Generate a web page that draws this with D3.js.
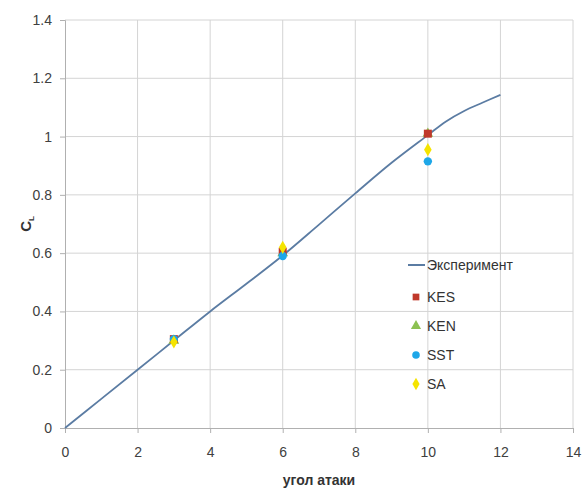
<!DOCTYPE html>
<html>
<head>
<meta charset="utf-8">
<script src="https://cdn.jsdelivr.net/npm/d3@7"></script>
<style>
  html, body { margin: 0; padding: 0; background: #fff; }
  svg { display: block; font-family: "Liberation Sans Narrow", "Liberation Sans", Arial, sans-serif; }
</style>
</head>
<body>
<svg id="chart" width="586" height="490"></svg>
<script>
// Experimental lift curve C_L vs angle of attack
const expAlpha = [0, 1, 2, 3, 4, 5, 6, 7, 8, 9, 10, 10.5, 11, 11.5, 12];
const expCl    = [0, 0.1, 0.2, 0.3, 0.4, 0.495, 0.592, 0.698, 0.805, 0.91, 1.005, 1.052, 1.088, 1.116, 1.143];

// Computed points for each turbulence model
const modelAlpha = [3, 6, 10];
const kesCl = [0.305, 0.605, 1.01];
const kenCl = [0.30, 0.60, 1.01];
const sstCl = [0.305, 0.59, 0.915];
const saCl  = [0.295, 0.62, 0.955];

const xTicks = [0, 2, 4, 6, 8, 10, 12, 14];
const yTicks = [0, 0.2, 0.4, 0.6, 0.8, 1, 1.2, 1.4];

const svg = d3.select("#chart");
const x = d3.scaleLinear().domain([0, 14]).range([65, 573]);
const y = d3.scaleLinear().domain([0, 1.4]).range([428, 20]);

// grid
svg.append("g").selectAll("line").data(xTicks.slice(1)).join("line")
  .attr("x1", d => x(d)).attr("x2", d => x(d))
  .attr("y1", y(0)).attr("y2", y(1.4))
  .attr("stroke", "#d4d4d4").attr("stroke-width", 1);
svg.append("g").selectAll("line").data(yTicks.slice(1)).join("line")
  .attr("x1", x(0)).attr("x2", x(14))
  .attr("y1", d => y(d)).attr("y2", d => y(d))
  .attr("stroke", "#d4d4d4").attr("stroke-width", 1);

// axes
const xAxis = svg.append("g").attr("transform", `translate(0,${y(0)})`)
  .call(d3.axisBottom(x).tickValues(xTicks).tickSize(5).tickPadding(14).tickFormat(d3.format("d")));
const yAxis = svg.append("g").attr("transform", `translate(${x(0)},0)`)
  .call(d3.axisLeft(y).tickValues(yTicks).tickSize(5).tickPadding(8).tickFormat(d => d === 0 || d === 1 ? d : d3.format(".1f")(d)));
[xAxis, yAxis].forEach(g => {
  g.select(".domain").attr("stroke", "#b0b0b0");
  g.selectAll(".tick line").attr("stroke", "#b0b0b0");
  g.selectAll(".tick text").attr("fill", "#404040").attr("font-size", 14);
});

// axis titles
svg.append("text").attr("x", x(7)).attr("y", 485).attr("text-anchor", "middle")
  .attr("font-size", 14).attr("font-weight", "bold").attr("fill", "#333").text("угол атаки");
const yt = svg.append("text").attr("transform", `translate(31,${y(0.7)}) rotate(-90)`)
  .attr("text-anchor", "middle").attr("font-size", 15).attr("font-weight", "bold").attr("fill", "#333");
yt.append("tspan").text("C");
yt.append("tspan").attr("font-size", 8).attr("dy", 3).text("L");

// experiment line
svg.append("path")
  .datum(expAlpha.map((a, i) => [a, expCl[i]]))
  .attr("fill", "none").attr("stroke", "#5b7ca3").attr("stroke-width", 1.8)
  .attr("d", d3.line().x(d => x(d[0])).y(d => y(d[1])).curve(d3.curveCatmullRom));

const sym = {
  KES: { type: d3.symbolSquare, color: "#c0392b", size: 64, data: kesCl },
  KEN: { type: d3.symbolTriangle, color: "#8cc152", size: 50, data: kenCl },
  SST: { type: d3.symbolCircle, color: "#1ea7e8", size: 55, data: sstCl },
  SA:  { type: d3.symbolDiamond, color: "#f5e400", size: 50, data: saCl }
};

// KEN sits underneath KES
["KEN", "KES", "SST", "SA"].forEach(k => {
  const s = sym[k];
  svg.append("g").selectAll("path").data(modelAlpha.map((a, i) => [a, s.data[i]])).join("path")
    .attr("transform", d => `translate(${x(d[0])},${y(d[1])})`)
    .attr("d", d3.symbol().type(s.type).size(s.size)())
    .attr("fill", s.color);
});

// legend
const lg = svg.append("g").attr("font-size", 14).attr("fill", "#333");
lg.append("line").attr("x1", 408).attr("x2", 425).attr("y1", 265).attr("y2", 265)
  .attr("stroke", "#5b7ca3").attr("stroke-width", 2);
lg.append("text").attr("x", 427).attr("y", 270).text("Эксперимент");
const keys = ["KES", "KEN", "SST", "SA"];
keys.forEach((k, i) => {
  const yy = 297 + i * 29;
  lg.append("path").attr("transform", `translate(416,${yy})`)
    .attr("d", d3.symbol().type(sym[k].type).size(45)()).attr("fill", sym[k].color);
  lg.append("text").attr("x", 427).attr("y", yy + 5).text(k);
});
</script>
</body>
</html>
